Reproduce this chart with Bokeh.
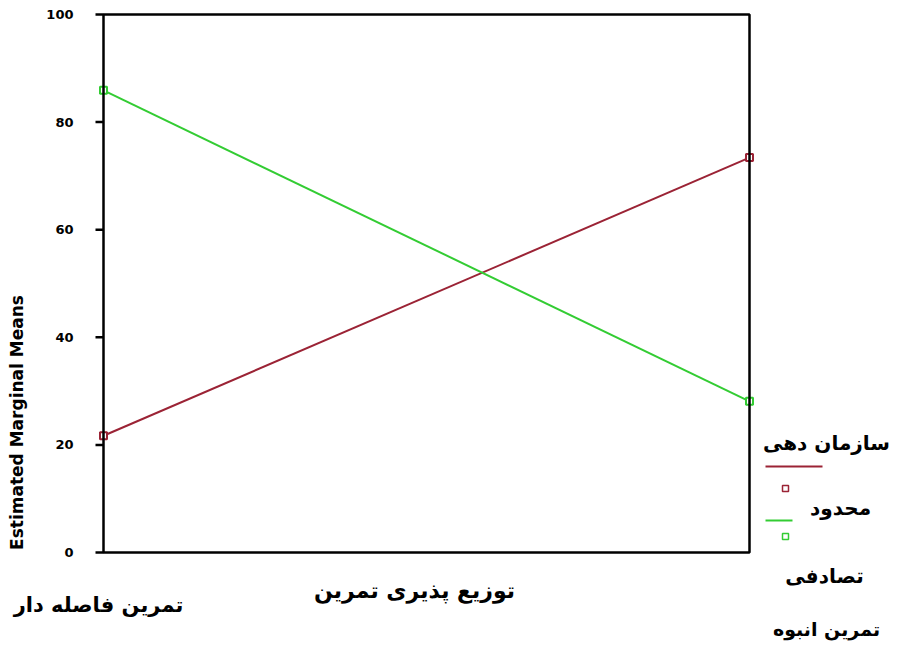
import math
from bokeh.plotting import figure
from bokeh.models import Range1d, Label, BoxAnnotation
from bokeh.embed import file_html
from bokeh.resources import INLINE

# ---- data ----
categories = ["تمرین فاصله دار", "تمرین انبوه"]
series_names = ["محدود", "تصادفی"]
limited_vals = [21.7, 73.4]
random_vals = [85.9, 28.1]
y_ticks = [0, 20, 40, 60, 80, 100]
y_tick_labels = ["0", "20", "40", "60", "80", "100"]
x_title = "توزیع پذیری تمرین"
y_title = "Estimated Marginal Means"
legend_title = "سازمان دهی"

RED = "#9B2335"
GREEN = "#33CC33"
FONT = "DejaVu Sans"

# canvas and plotting box (figure pixel coordinates, from top-left)
W, H = 889, 641
BOX_L, BOX_R, BOX_T, BOX_B = 103, 749, 14, 552
Y0, Y1 = 0.0, 100.0
X0, X1 = 0.0, float(len(categories) - 1)

xpp = (X1 - X0) / (BOX_R - BOX_L)
ypp = (Y1 - Y0) / (BOX_B - BOX_T)
x_range = Range1d(X0 - BOX_L * xpp, X1 + (W - BOX_R) * xpp)
y_range = Range1d(Y0 - (H - BOX_B) * ypp, Y1 + BOX_T * ypp)

p = figure(width=W, height=H, output_backend="svg", toolbar_location=None,
           x_axis_type=None, y_axis_type=None, x_range=x_range, y_range=y_range,
           min_border=0, min_border_left=0, min_border_right=0,
           min_border_top=0, min_border_bottom=0)
p.grid.visible = False
p.outline_line_color = None
p.background_fill_color = "white"
p.border_fill_color = "white"

# plot box
p.add_layout(BoxAnnotation(left=X0, right=X1, bottom=Y0, top=Y1, fill_alpha=0,
                           line_color="black", line_alpha=1.0, line_width=2.5,
                           level="overlay"))

# y ticks and tick labels
p.ray(x=[X0] * len(y_ticks), y=y_ticks, length=8, length_units="screen",
      angle=math.pi, line_color="black", line_width=2.5)
p.text(x=[X0] * len(y_ticks), y=y_ticks, text=y_tick_labels, x_offset=-30,
       text_align="right", text_baseline="middle", text_font_size="13px",
       text_font_style="bold", text_color="black", text_font={"value": FONT})

# series
xs = list(range(len(categories)))
p.line(xs, limited_vals, line_color=RED, line_width=2)
p.line(xs, random_vals, line_color=GREEN, line_width=2)
p.scatter(xs, limited_vals, marker="square", size=7, line_color=RED, fill_color="white", line_width=2)
p.scatter(xs, random_vals, marker="square", size=7, line_color=GREEN, fill_color="white", line_width=2)


def sy(y):
    return H - y


def lab(text, x, y, size, align="center", angle=0.0):
    p.add_layout(Label(x=x, y=sy(y), x_units="screen", y_units="screen", text=text,
                       text_font=FONT, text_font_style="bold", text_font_size=size,
                       text_align=align, text_baseline="middle", angle=angle, text_color="black"))


lab(y_title, 16, 422, "17px", angle=math.pi / 2)
lab(x_title, 414, 590, "22px")
lab(categories[0], 98, 604, "21px")
lab(categories[1], 826, 628, "19px")
lab(legend_title, 826, 442, "20px")
lab(series_names[0], 840, 507, "20px")
lab(series_names[1], 824, 575, "20px")


def box(l, r, t, b, color, fill=True):
    p.add_layout(BoxAnnotation(left=l, right=r, top=sy(t), bottom=sy(b),
                               left_units="screen", right_units="screen",
                               top_units="screen", bottom_units="screen",
                               fill_color=color if fill else "white", fill_alpha=1.0,
                               line_color=color, line_alpha=1.0,
                               line_width=1.5 if not fill else 0))


box(765, 822, 465, 467, RED)
box(782, 788, 485, 491, RED, fill=False)
box(765, 792, 519, 521, GREEN)
box(782, 788, 533, 539, GREEN, fill=False)

open("out.html", "w").write(file_html(p, INLINE))
